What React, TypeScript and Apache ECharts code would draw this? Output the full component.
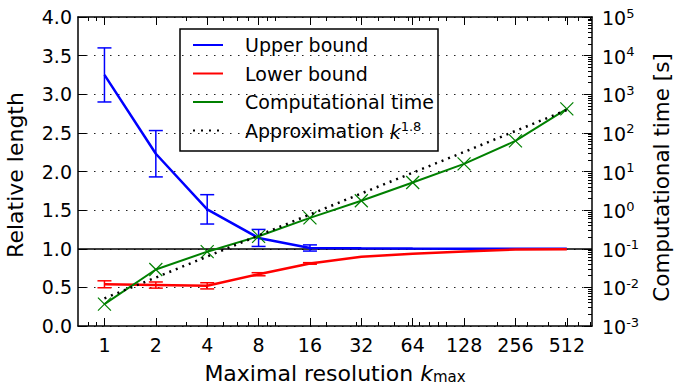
import React, { useEffect, useRef } from "react";
import * as echarts from "echarts";

// ---- data ----
const K = [1, 2, 4, 8, 16, 32, 64, 128, 256, 512];
const upperBound = [3.25, 2.23, 1.51, 1.14, 1.01, 1.005, 1.002, 1.001, 1.0, 1.0];
const upperErr = [0.35, 0.3, 0.19, 0.11, 0.04, 0, 0, 0, 0, 0];
const lowerBound = [0.54, 0.53, 0.52, 0.67, 0.81, 0.895, 0.935, 0.965, 0.99, 0.995];
const lowerErr = [0.045, 0.04, 0.04, 0.02, 0.01, 0, 0, 0, 0, 0];
const compTime = [0.0037, 0.029, 0.084, 0.21, 0.63, 1.75, 5.2, 15.7, 62, 420];
const approxTime = [0.0052, 0.018, 0.063, 0.22, 0.77, 2.7, 9.3, 32, 112, 390];
const rightExponents = [-3, -2, -1, 0, 1, 2, 3, 4, 5];
const rightMinorSubs = [2, 3, 4, 5, 6, 7, 8, 9];
const xMinorTicks = [0.8, 0.9, 3, 5, 6, 7, 9, 10, 20, 30, 40, 50, 60, 70, 80, 90, 100, 200, 300, 400, 500, 600, 700];
const legendLabels = ["Upper bound", "Lower bound", "Computational time", "Approximation {i|k}{s|1.8}"];

const FONT = "'DejaVu Sans', sans-serif";
const BLUE = "#0000ff";
const RED = "#ff0000";
const GREEN = "#008000";

const X_MIN = -0.515;
const X_MAX = 9.49;

const xs = K.map((k) => Math.log2(k));
const rightMinorValues: number[] = [];
rightExponents.slice(0, -1).forEach((e) => rightMinorSubs.forEach((s) => rightMinorValues.push(Math.log10(s * Math.pow(10, e)))));
const xMinorValues = xMinorTicks.map((v) => Math.log2(v));

function errData(vals: number[], errs: number[]) {
  const out: number[][] = [];
  vals.forEach((v, i) => {
    if (errs[i] > 0) out.push([xs[i], v - errs[i], v + errs[i]]);
  });
  return out;
}

function errRender(color: string) {
  return (params: any, api: any) => {
    const x = api.value(0);
    const top = api.coord([x, api.value(2)]);
    const bot = api.coord([x, api.value(1)]);
    const w = 7;
    const style = { stroke: color, lineWidth: 1.5, fill: "none" };
    return {
      type: "group",
      children: [
        { type: "line", shape: { x1: top[0], y1: top[1], x2: bot[0], y2: bot[1] }, style },
        { type: "line", shape: { x1: top[0] - w, y1: top[1], x2: top[0] + w, y2: top[1] }, style },
        { type: "line", shape: { x1: bot[0] - w, y1: bot[1], x2: bot[0] + w, y2: bot[1] }, style },
      ],
    };
  };
}

function crossRender(color: string) {
  return (params: any, api: any) => {
    const p = api.coord([api.value(0), api.value(1)]);
    const s = 6.5;
    const style = { stroke: color, lineWidth: 1.2, fill: "none" };
    return {
      type: "group",
      children: [
        { type: "line", shape: { x1: p[0] - s, y1: p[1] - s, x2: p[0] + s, y2: p[1] + s }, style },
        { type: "line", shape: { x1: p[0] - s, y1: p[1] + s, x2: p[0] + s, y2: p[1] - s }, style },
      ],
    };
  };
}

const supRich = {
  b: { fontSize: 19, fontFamily: FONT, color: "#000", verticalAlign: "bottom" },
  s: { fontSize: 13, fontFamily: FONT, color: "#000", verticalAlign: "bottom", padding: [0, 0, 8, 0] },
};

export default function App() {
  const ref = useRef<HTMLDivElement>(null);
  useEffect(() => {
    if (!ref.current) return;
    const chart = echarts.init(ref.current, undefined, { renderer: "svg" });
    const axisLine = { show: true, onZero: false, lineStyle: { color: "#000", width: 1.5 } };
    const noLine = { show: false, onZero: false };
    const majorTick = { show: true, inside: true, length: 8, lineStyle: { color: "#000", width: 1 } };
    const minorTick = { show: true, inside: true, length: 4, lineStyle: { color: "#000", width: 1 } };

    const legendRowsY = [45, 73.5, 102, 130.5];
    const legendColors = [BLUE, RED, GREEN, "#000"];
    const legendChildren: any[] = [
      {
        type: "rect",
        shape: { x: 180, y: 29, width: 258, height: 122 },
        style: { fill: "#fff", stroke: "#000", lineWidth: 1.5 },
      },
    ];
    legendLabels.forEach((label, i) => {
      legendChildren.push({
        type: "line",
        shape: { x1: 193, y1: legendRowsY[i], x2: 223, y2: legendRowsY[i] },
        style: i === 3
          ? { stroke: "#000", lineWidth: 2, lineDash: [2, 6] }
          : { stroke: legendColors[i], lineWidth: 2 },
      });
      legendChildren.push({
        type: "text",
        x: 245,
        y: legendRowsY[i],
        style: {
          text: label,
          fill: "#000",
          fontSize: 19,
          fontFamily: FONT,
          verticalAlign: "middle",
          align: "left",
          rich: {
            i: { fontSize: 19, fontFamily: FONT, fontStyle: "italic", verticalAlign: "bottom", fill: "#000" },
            s: { fontSize: 13, fontFamily: FONT, verticalAlign: "bottom", padding: [0, 0, 8, 0], fill: "#000" },
          },
        },
      });
    });

    const option: any = {
      animation: false,
      backgroundColor: "#fff",
      textStyle: { fontFamily: FONT },
      grid: { left: 78, right: 85, top: 17, bottom: 59, outerBoundsMode: "none", containLabel: false },
      xAxis: [
        {
          type: "value",
          position: "bottom",
          min: X_MIN,
          max: X_MAX,
          axisLine,
          axisTick: { ...majorTick, customValues: xs },
          axisLabel: {
            customValues: xs,
            margin: 9,
            fontSize: 19,
            fontFamily: FONT,
            color: "#000",
            formatter: (v: number) => String(Math.round(Math.pow(2, v))),
          },
          splitLine: { show: false },
          name: "{a|Maximal resolution }{i|k}{m|max}",
          nameLocation: "middle",
          nameGap: 36,
          nameTextStyle: {
            fontSize: 22,
            fontFamily: FONT,
            color: "#000",
            rich: {
              a: { fontSize: 22, fontFamily: FONT, color: "#000", verticalAlign: "bottom" },
              i: { fontSize: 22, fontFamily: FONT, color: "#000", fontStyle: "italic", verticalAlign: "bottom" },
              m: { fontSize: 15, fontFamily: FONT, color: "#000", verticalAlign: "bottom" },
            },
          },
        },
        {
          type: "value",
          position: "top",
          min: X_MIN,
          max: X_MAX,
          axisLine,
          axisTick: { ...majorTick, customValues: xs },
          axisLabel: { show: false },
          splitLine: { show: false },
        },
        {
          type: "value",
          position: "bottom",
          min: X_MIN,
          max: X_MAX,
          axisLine: noLine,
          axisTick: { ...minorTick, customValues: xMinorValues },
          axisLabel: { show: false },
          splitLine: { show: false },
        },
        {
          type: "value",
          position: "top",
          min: X_MIN,
          max: X_MAX,
          axisLine: noLine,
          axisTick: { ...minorTick, customValues: xMinorValues },
          axisLabel: { show: false },
          splitLine: { show: false },
        },
      ],
      yAxis: [
        {
          type: "value",
          position: "left",
          min: 0,
          max: 4,
          interval: 0.5,
          axisLine,
          axisTick: majorTick,
          axisLabel: {
            margin: 6,
            fontSize: 19,
            fontFamily: FONT,
            color: "#000",
            formatter: (v: number) => v.toFixed(1),
          },
          splitLine: { show: true, lineStyle: { color: "#222", width: 1.2, type: [1.5, 6.5] } },
          name: "Relative length",
          nameLocation: "middle",
          nameRotate: 90,
          nameGap: 52,
          nameTextStyle: { fontSize: 22, fontFamily: FONT, color: "#000", padding: [0, 7, 0, 0] },
        },
        {
          type: "value",
          position: "right",
          min: -3,
          max: 5,
          interval: 1,
          axisLine,
          axisTick: majorTick,
          axisLabel: {
            margin: 10,
            fontSize: 19,
            fontFamily: FONT,
            color: "#000",
            formatter: (v: number) => "{b|10}{s|" + Math.round(v) + "}",
            rich: supRich,
          },
          splitLine: { show: false },
          name: "Computational time [s]",
          nameLocation: "middle",
          nameRotate: 90,
          nameGap: 58,
          nameTextStyle: { fontSize: 21.5, fontFamily: FONT, color: "#000", padding: [0, 12, 0, 0] },
        },
        {
          type: "value",
          position: "right",
          min: -3,
          max: 5,
          axisLine: noLine,
          axisTick: { ...minorTick, customValues: rightMinorValues },
          axisLabel: { show: false },
          splitLine: { show: false },
        },
      ],
      graphic: [{ type: "group", z: 100, children: legendChildren }],
      series: [
        {
          name: "Upper bound",
          type: "line",
          xAxisIndex: 0,
          yAxisIndex: 0,
          data: upperBound.map((v, i) => [xs[i], v]),
          showSymbol: false,
          lineStyle: { color: BLUE, width: 2.5 },
          itemStyle: { color: BLUE },
          z: 3,
          markLine: {
            silent: true,
            symbol: "none",
            label: { show: false },
            lineStyle: { color: "#000", width: 1.5, type: "solid" },
            data: [{ yAxis: 1 }],
            z: 1,
          },
        },
        {
          name: "Upper bound error",
          type: "custom",
          xAxisIndex: 0,
          yAxisIndex: 0,
          data: errData(upperBound, upperErr),
          encode: { x: 0, y: [1, 2] },
          renderItem: errRender(BLUE),
          z: 3,
        },
        {
          name: "Lower bound",
          type: "line",
          xAxisIndex: 0,
          yAxisIndex: 0,
          data: lowerBound.map((v, i) => [xs[i], v]),
          showSymbol: false,
          lineStyle: { color: RED, width: 2.5 },
          itemStyle: { color: RED },
          z: 3,
        },
        {
          name: "Lower bound error",
          type: "custom",
          xAxisIndex: 0,
          yAxisIndex: 0,
          data: errData(lowerBound, lowerErr),
          encode: { x: 0, y: [1, 2] },
          renderItem: errRender(RED),
          z: 3,
        },
        {
          name: "Computational time",
          type: "line",
          xAxisIndex: 0,
          yAxisIndex: 1,
          data: compTime.map((v, i) => [xs[i], Math.log10(v)]),
          showSymbol: false,
          lineStyle: { color: GREEN, width: 2 },
          itemStyle: { color: GREEN },
          z: 4,
        },
        {
          name: "Computational time markers",
          type: "custom",
          xAxisIndex: 0,
          yAxisIndex: 1,
          data: compTime.map((v, i) => [xs[i], Math.log10(v)]),
          encode: { x: 0, y: 1 },
          renderItem: crossRender(GREEN),
          z: 4,
        },
        {
          name: "Approximation k^1.8",
          type: "line",
          xAxisIndex: 0,
          yAxisIndex: 1,
          data: approxTime.map((v, i) => [xs[i], Math.log10(v)]),
          showSymbol: false,
          lineStyle: { color: "#000", width: 2.5, type: [2, 5] },
          itemStyle: { color: "#000" },
          z: 5,
        },
      ],
    };
    chart.setOption(option);
    return () => chart.dispose();
  }, []);

  return (
    <div
      ref={ref}
      style={{ position: "fixed", left: 0, top: 0, width: 677, height: 385, background: "#fff" }}
    />
  );
}
